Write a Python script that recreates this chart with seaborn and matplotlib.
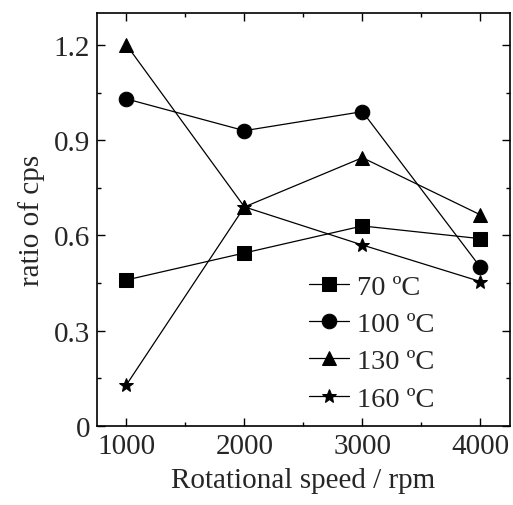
import matplotlib
matplotlib.use('Agg')
import matplotlib.pyplot as plt
from matplotlib.ticker import MultipleLocator
import seaborn as sns
import pandas as pd

# Datos
speed = [1000, 2000, 3000, 4000]
t70 = [0.46, 0.545, 0.63, 0.59]
t100 = [1.03, 0.93, 0.99, 0.50]
t130 = [1.20, 0.69, 0.845, 0.665]
t160 = [0.13, 0.69, 0.57, 0.455]
labels = ['70 ºC', '100 ºC', '130 ºC', '160 ºC']

df = pd.DataFrame({
    'speed': speed * 4,
    'ratio': t70 + t100 + t130 + t160,
    'temp': [l for l in labels for _ in speed],
})

sns.set_style('ticks')
plt.rcParams['font.family'] = ['Liberation Serif', 'DejaVu Serif']

fig = plt.figure(figsize=(5.13, 5.06), dpi=100)
ax = fig.add_axes([0.189, 0.156, 0.805, 0.816])

sns.lineplot(data=df, x='speed', y='ratio', hue='temp', style='temp',
             palette=['black'] * 4, markers=['s', 'o', '^', '*'],
             dashes=False, markersize=10.5, linewidth=0.9,
             markeredgecolor='black', ax=ax)

ax.set_xlim(750, 4250)
ax.set_ylim(0, 1.3)
ax.xaxis.set_major_locator(MultipleLocator(1000))
ax.xaxis.set_minor_locator(MultipleLocator(500))
ax.yaxis.set_major_locator(MultipleLocator(0.3))
ax.yaxis.set_minor_locator(MultipleLocator(0.15))
ax.yaxis.set_major_formatter(plt.FuncFormatter(lambda v, p: '0' if v == 0 else f'{v:.1f}'))
ax.tick_params(which='both', direction='in', top=True, right=True, labelsize=21, width=1, color='black', pad=5)
ax.tick_params(which='major', length=6)
ax.tick_params(which='minor', length=3)
for s in ax.spines.values():
    s.set_linewidth(1.2)
    s.set_color('black')

ax.set_xlabel('Rotational speed / rpm', fontsize=21, labelpad=6)
ax.set_ylabel('ratio of cps', fontsize=21, labelpad=6)

h, l = ax.get_legend_handles_labels()
ax.legend(h, l, loc='lower left', bbox_to_anchor=(0.513, 0.035), frameon=False,
          fontsize=20.5, handlelength=1.4, labelspacing=0.4, handletextpad=0.3,
          borderaxespad=0, borderpad=0)

fig.savefig('out.png', dpi=100)
